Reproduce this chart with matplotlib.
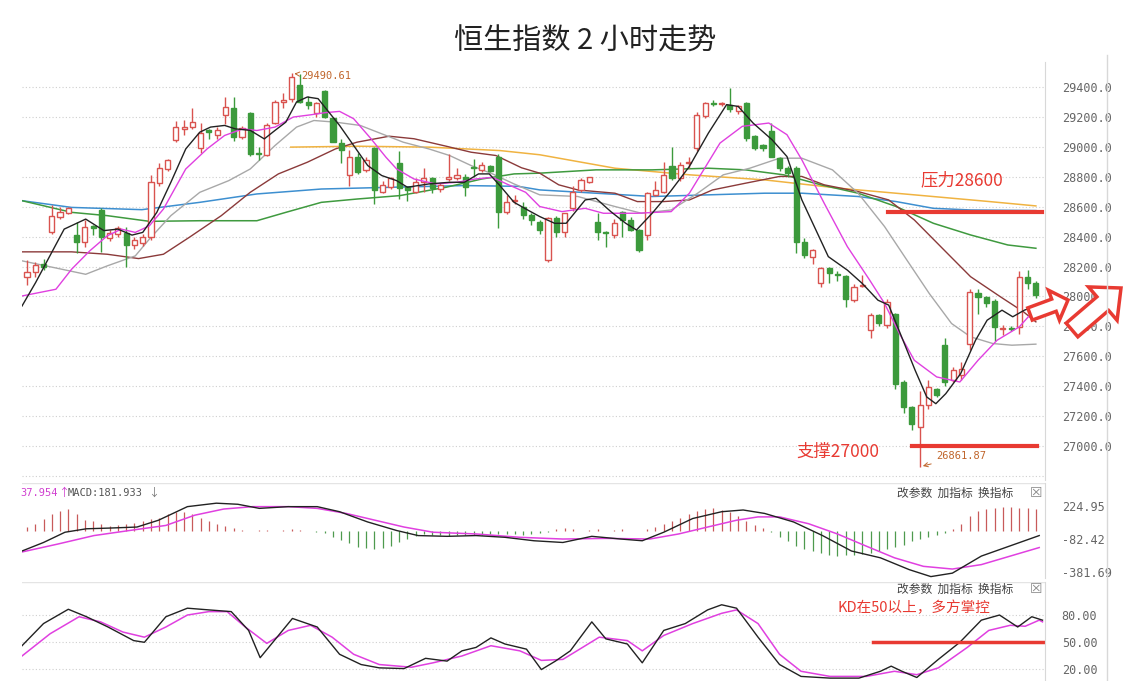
import numpy as np
import matplotlib
matplotlib.use("Agg")
import matplotlib.pyplot as plt
from matplotlib.patches import FancyArrow
from matplotlib.transforms import IdentityTransform

plt.rcParams['font.family'] = ['Noto Sans CJK SC', 'DejaVu Sans']

# =============================================================================
# Data
# =============================================================================
opens = [28132, 28165, 28220, 28432, 28533, 28560, 28410, 28366, 28470, 28577,
         28390, 28420, 28422, 28343, 28360, 28400, 28756, 28850, 29045, 29120,
         29134, 28990, 29110, 29080, 29212, 29257, 29067, 29223, 28960, 28945,
         29157, 29300, 29317, 29413, 29300, 29224, 29370, 29190, 29023, 28812,
         28934, 28845, 28990, 28700, 28733, 28890, 28733, 28700, 28766, 28790,
         28720, 28785, 28790, 28795, 28862, 28845, 28872, 28934, 28566, 28640,
         28600, 28545, 28500, 28243, 28522, 28433, 28590, 28712, 28768, 28500,
         28433, 28411, 28567, 28511, 28444, 28410, 28680, 28700, 28869, 28790,
         28890, 28991, 29203, 29290, 29285, 29280, 29240, 29293, 29074, 29010,
         29103, 28925, 28860, 28857, 28366, 28266, 28091, 28187, 28150, 28136,
         27975, 28070, 27775, 27875, 27808, 27885, 27428, 27261, 27127, 27272,
         27384, 27674, 27440, 27472, 27685, 28020, 27997, 27971, 27780, 27790,
         27797, 28132, 28087]
closes = [28165, 28210, 28200, 28537, 28566, 28588, 28366, 28466, 28455, 28400,
          28422, 28455, 28343, 28377, 28400, 28767, 28856, 28912, 29134, 29130,
          29167, 29090, 29100, 29110, 29263, 29067, 29123, 28950, 28950, 29145,
          29302, 29310, 29470, 29302, 29280, 29290, 29200, 29034, 28980, 28934,
          28834, 28912, 28711, 28745, 28790, 28722, 28710, 28766, 28790, 28722,
          28744, 28795, 28810, 28733, 28856, 28878, 28840, 28566, 28633, 28645,
          28545, 28510, 28444, 28522, 28433, 28556, 28700, 28775, 28797, 28433,
          28422, 28489, 28511, 28444, 28310, 28690, 28712, 28812, 28790, 28880,
          28890, 29215, 29293, 29285, 29285, 29250, 29270, 29058, 28991, 28995,
          28935, 28857, 28823, 28366, 28277, 28310, 28187, 28154, 28146, 27980,
          28065, 28075, 27875, 27820, 27963, 27417, 27261, 27150, 27272, 27395,
          27340, 27428, 27506, 27517, 28031, 27993, 27953, 27797, 27790, 27785,
          28132, 28087, 28009]
highs = [28243, 28230, 28250, 28612, 28600, 28600, 28500, 28510, 28480, 28590,
         28445, 28470, 28466, 28400, 28420, 28810, 28890, 28920, 29170, 29180,
         29260, 29160, 29120, 29130, 29330, 29330, 29140, 29230, 29000, 29160,
         29310, 29360, 29490.61, 29490, 29340, 29300, 29380, 29200, 29050, 28980,
         28960, 28930, 29000, 28770, 28800, 28970, 28740, 28790, 28860, 28800,
         28760, 28950, 28860, 28820, 28920, 28900, 28880, 28950, 28680, 28680,
         28630, 28560, 28510, 28530, 28540, 28560, 28740, 28790, 28800, 28560,
         28440, 28520, 28570, 28530, 28450, 28700, 28770, 28900, 29000, 28900,
         28930, 29230, 29300, 29310, 29300, 29390, 29280, 29300, 29080, 29020,
         29160, 28935, 28870, 28870, 28390, 28320, 28200, 28200, 28170, 28140,
         28080, 28140, 27890, 27880, 27980, 27890, 27440, 27270, 27370, 27440,
         27390, 27720, 27530, 27560, 28050, 28050, 28000, 27980, 27810, 27800,
         28170, 28180, 28100]
lows = [28076, 28130, 28180, 28420, 28520, 28550, 28290, 28330, 28410, 28300,
        28370, 28400, 28200, 28320, 28340, 28380, 28740, 28840, 29030, 29080,
        29120, 28960, 29050, 29050, 29150, 29040, 29050, 28940, 28910, 28940,
        29150, 29260, 29300, 29290, 29250, 29200, 29190, 29030, 28890, 28740,
        28820, 28830, 28620, 28690, 28720, 28650, 28640, 28690, 28700, 28690,
        28700, 28770, 28780, 28670, 28800, 28830, 28830, 28460, 28550, 28620,
        28520, 28480, 28420, 28230, 28400, 28400, 28570, 28700, 28760, 28380,
        28330, 28390, 28400, 28440, 28300, 28380, 28670, 28690, 28780, 28770,
        28860, 28970, 29190, 29270, 29270, 29230, 29220, 29040, 28980, 28970,
        28930, 28840, 28800, 28290, 28260, 28220, 28060, 28090, 28100, 27930,
        27960, 28060, 27720, 27800, 27790, 27380, 27220, 27110, 26861.87, 27250,
        27330, 27400, 27430, 27440, 27640, 27880, 27930, 27700, 27740, 27770,
        27750, 28050, 27990]

# moving averages, sampled (candle index, value)
ma5_x = [-0.6, 1.05, 4.5, 7.1, 9.3, 11.0, 12.7, 14.0, 15.7, 17.4, 19.2, 20.9, 22.2, 23.9,
         25.2, 27.0, 28.7, 30.0, 31.3, 32.6, 33.9, 35.2, 36.5, 37.8, 39.5, 41.2, 42.9,
         44.7, 46.0, 48.6, 51.1, 52.9, 54.6, 55.9, 57.2, 58.9, 60.7, 62.0, 63.8, 65.2,
         67.5, 68.8, 70.6, 72.4, 73.7, 75.6, 77.8, 80.1, 82.4, 84.6, 86.0, 87.8, 90.1,
         91.9, 93.7, 96.9, 99.2, 101.0, 102.9, 104.2, 105.6, 107.4, 108.8, 109.9, 111.1,
         112.9, 114.7, 116.1, 117.9, 119.2, 120.6, 122.2]
ma5_y = [27936, 28093, 28450, 28517, 28440, 28450, 28410, 28428, 28562, 28763, 28986,
         29098, 29132, 29143, 29120, 29110, 29053, 29110, 29165, 29300, 29333, 29322,
         29232, 29143, 29009, 28875, 28808, 28774, 28730, 28752, 28763, 28763, 28819,
         28819, 28740, 28629, 28573, 28534, 28489, 28489, 28645, 28656, 28567, 28489,
         28444, 28556, 28701, 28869, 29092, 29282, 29270, 29159, 29047, 28935, 28645,
         28266, 28176, 28087, 27975, 27942, 27752, 27506, 27328, 27283, 27350, 27484,
         27707, 27841, 27908, 27864, 27908, 27942]
ma10_x = [-0.6, 3.5, 5.4, 7.6, 9.7, 11.4, 13.1, 14.8, 16.5, 19.2, 21.8, 23.9, 26.1, 27.8,
          30.0, 32.2, 34.3, 36.0, 37.8, 39.5, 41.6, 43.4, 44.7, 46.8, 49.4, 52.0, 54.2,
          56.3, 58.0, 60.3, 62.0, 64.7, 67.5, 69.7, 73.8, 77.9, 80.1, 83.8, 86.5, 89.7,
          91.9, 93.7, 96.4, 99.2, 101.9, 103.7, 105.5, 107.3, 110.0, 112.8, 115.0, 117.3,
          120.0, 122.0]
ma10_y = [28003, 28048, 28182, 28305, 28405, 28450, 28428, 28472, 28584, 28852, 28987,
          29076, 29120, 29109, 29132, 29199, 29214, 29228, 29237, 29188, 29054, 28931,
          28852, 28785, 28752, 28763, 28785, 28796, 28752, 28696, 28601, 28567, 28589,
          28556, 28556, 28567, 28690, 29025, 29137, 29159, 29081, 28913, 28623, 28333,
          28109, 27953, 27752, 27573, 27462, 27428, 27573, 27707, 27797, 27920]
ma20_x = [-0.6, 7.1, 9.7, 13.1, 14.8, 17.4, 20.9, 24.4, 27.0, 30.0, 32.6, 34.7, 37.3,
          40.3, 42.9, 45.5, 48.6, 51.1, 53.7, 56.3, 58.9, 62.0, 66.6, 71.1, 74.3, 77.9,
          81.1, 84.2, 87.4, 91.0, 93.7, 97.4, 100.5, 103.7, 106.4, 109.1, 111.8, 114.1,
          116.8, 119.1, 122.0]
ma20_y = [28238, 28148, 28204, 28271, 28383, 28540, 28696, 28774, 28852, 29009, 29132,
          29176, 29165, 29143, 29087, 29031, 28986, 28942, 28875, 28819, 28752, 28679,
          28668, 28601, 28556, 28578, 28690, 28813, 28857, 28924, 28924, 28846, 28690,
          28467, 28243, 28020, 27819, 27730, 27685, 27674, 27681]
ma30_x = [-0.6, 5.4, 9.7, 13.5, 16.5, 19.6, 23.5, 27.0, 30.4, 33.9, 37.3, 39.9, 43.8,
          46.8, 50.7, 53.7, 56.7, 59.8, 62.0, 64.3, 66.6, 68.8, 71.1, 73.8, 77.0, 80.1,
          82.9, 86.9, 91.0, 93.7, 96.4, 100.5, 104.2, 107.3, 110.9, 114.1, 117.7, 120.5,
          122.0]
ma30_y = [28298, 28298, 28282, 28253, 28282, 28394, 28540, 28696, 28819, 28897, 28986,
          29031, 29071, 29054, 29004, 28964, 28942, 28860, 28824, 28746, 28712, 28701,
          28690, 28634, 28634, 28645, 28712, 28757, 28802, 28802, 28746, 28701, 28645,
          28511, 28310, 28132, 27998, 27897, 27830]
ma60_x = [-0.6, 5.4, 9.7, 14.8, 20.9, 27.8, 31.3, 35.6, 39.9, 45.1, 50.7, 55.0, 58.9,
          62.0, 68.8, 75.6, 82.4, 86.9, 91.5, 96.0, 100.5, 105.1, 109.6, 114.1, 118.6, 122.0]
ma60_y = [28640, 28562, 28540, 28502, 28506, 28506, 28562, 28629, 28651, 28674, 28730,
          28785, 28819, 28824, 28846, 28846, 28857, 28846, 28813, 28746, 28690, 28601,
          28489, 28411, 28344, 28322]
ma120_x = [-0.6, 5.4, 13.9, 20.9, 27.8, 35.6, 44.3, 52.9, 59.4, 62.0, 68.8, 75.6, 82.4,
           89.2, 93.7, 100.5, 105.1, 109.6, 114.1, 122.0]
ma120_y = [28640, 28595, 28580, 28629, 28685, 28718, 28730, 28741, 28736, 28712, 28690,
           28668, 28679, 28690, 28690, 28668, 28634, 28589, 28578, 28574]
ma250_x = [31.9, 39.9, 48.6, 57.2, 62.0, 71.1, 80.1, 89.2, 98.3, 107.3, 116.4, 122.0]
ma250_y = [28998, 29004, 28998, 28975, 28947, 28857, 28813, 28779, 28723, 28679, 28634, 28605]

price_ticks = [27000, 27200, 27400, 27600, 27800, 28000, 28200, 28400, 28600, 28800,
               29000, 29200, 29400]

# MACD
macd_hist = [30, 60, 110, 150, 185, 200, 150, 100, 85, 60, 40, 50, 60, 70, 90, 110, 120,
             150, 170, 170, 150, 120, 90, 60, 40, 20, 5, -3, 4, 5, -3, 8, 10, 3, -5, -10,
             -20, -60, -90, -120, -150, -165, -170, -160, -140, -110, -80, -50, -35, -40,
             -45, -50, -45, -40, -45, -40, -35, -30, -30, -35, -40, -30, -20, -15, 10, 25,
             10, -5, 8, 10, -5, 8, 10, -4, -8, 10, 30, 60, 90, 120, 150, 180, 200, 205,
             190, 170, 130, 90, 50, 20, -10, -60, -100, -140, -170, -190, -210, -225,
             -235, -230, -225, -215, -205, -190, -170, -150, -130, -100, -80, -60, -40,
             -20, 10, 60, 130, 180, 200, 210, 215, 215, 210, 210, 200]
dif_x = [-0.6, 2.0, 4.6, 7.2, 9.8, 13.3, 15.9, 19.4, 22.9, 25.5, 28.1, 31.6, 35.1, 37.8,
         41.2, 44.7, 47.3, 50.8, 54.3, 57.8, 61.3, 64.8, 68.3, 71.8, 74.4, 77.0, 80.5,
         84.0, 86.6, 89.2, 92.7, 96.2, 99.7, 103.2, 106.7, 109.3, 111.9, 115.4, 118.9, 122.4]
dif_y = [-190, -111, -16, 16, 22, 32, 95, 221, 253, 243, 205, 221, 221, 174, 79, 0, -47,
         -54, -47, -63, -95, -111, -54, -79, -95, -16, 111, 174, 190, 158, 79, -47, -190,
         -253, -363, -427, -395, -237, -142, -47]
dea_x = [-0.6, 3.7, 8.1, 12.4, 16.8, 20.3, 23.8, 27.3, 31.6, 35.1, 38.6, 42.1, 45.6, 49.1,
         54.3, 59.6, 64.8, 70.0, 75.3, 78.8, 82.3, 85.8, 88.4, 91.0, 94.5, 98.0, 101.4,
         104.9, 108.4, 111.9, 115.4, 118.9, 122.4]
dea_y = [-199, -126, -47, 0, 47, 142, 199, 221, 221, 205, 158, 95, 32, -16, -32, -63, -79,
         -73, -79, -32, 32, 95, 126, 126, 63, -32, -142, -253, -332, -357, -316, -237, -158]
macd_ticks = [224.95, -82.42, -381.69]

# KD
k_x = [-0.6, 2.0, 5.0, 7.2, 9.8, 12.9, 14.2, 16.8, 19.4, 22.0, 24.7, 26.8, 28.2, 29.9,
       32.1, 35.1, 37.8, 40.4, 42.6, 45.6, 48.2, 50.8, 52.6, 54.3, 56.1, 57.8, 60.4, 62.2,
       63.9, 65.7, 68.3, 70.0, 72.6, 74.4, 77.0, 79.6, 82.3, 84.0, 85.8, 88.4, 91.0, 93.6,
       97.1, 100.6, 103.2, 104.5, 105.8, 107.6, 110.2, 112.8, 115.4, 117.6, 119.8, 121.5,
       122.8]
k_y = [45.9, 70.5, 86.4, 78.1, 66.7, 51.6, 49.7, 78.1, 87.6, 85.7, 83.8, 62.9, 32.6, 51.6,
       76.2, 66.7, 36.4, 25.0, 21.3, 20.5, 31.9, 28.8, 40.2, 44.0, 54.6, 47.8, 42.1, 19.4,
       28.8, 40.2, 72.4, 53.5, 47.8, 26.9, 62.9, 70.5, 85.7, 91.4, 87.6, 55.4, 25.0, 11.8,
       9.9, 9.9, 17.5, 23.2, 17.5, 10.6, 30.7, 49.7, 74.3, 80.0, 66.7, 78.1, 74.3]
d_x = [-0.6, 2.8, 6.3, 8.9, 11.6, 14.2, 16.8, 19.4, 22.0, 24.2, 26.4, 29.0, 31.6, 34.3,
       36.9, 39.5, 42.6, 46.5, 49.1, 52.6, 56.1, 59.6, 62.2, 64.8, 66.5, 69.2, 72.6, 74.4,
       77.0, 80.5, 84.0, 85.8, 88.4, 91.0, 93.6, 97.1, 101.5, 104.9, 107.6, 110.2, 113.7,
       116.3, 118.9, 120.7, 122.4, 122.8]
d_y = [34.5, 59.2, 78.1, 72.4, 61.1, 55.4, 66.7, 80.0, 83.8, 83.8, 66.7, 48.5, 62.9, 68.6,
       55.4, 36.4, 25.0, 22.0, 26.9, 34.5, 45.9, 40.2, 29.6, 30.7, 40.2, 55.4, 51.6, 40.2,
       57.3, 70.5, 81.9, 85.7, 70.5, 36.4, 17.5, 11.8, 11.8, 17.5, 13.7, 21.3, 44.0, 62.9,
       68.6, 67.5, 74.3, 72.4]
kd_ticks = [80, 50, 20]

RED = "#d9534f"
GREEN = "#3c9a3c"
LINE_RED = "#e83a32"
GRID = "#cfcfcf"
TICK = "#666666"

W, H = 1123, 681
fig = plt.figure(figsize=(W / 100, H / 100), dpi=100)

def px_axes(x0, y0, x1, y1):
    return fig.add_axes([x0 / W, 1 - y1 / H, (x1 - x0) / W, (y1 - y0) / H])

ax1 = px_axes(22, 62, 1045, 480)
ax2 = px_axes(22, 483, 1045, 578)
ax3 = px_axes(22, 582, 1045, 681)

XLIM = (-0.6, 123.1)
for ax in (ax1, ax2, ax3):
    ax.set_xlim(*XLIM)
    ax.set_xticks([])
    for s in ("top", "left", "bottom"):
        ax.spines[s].set_visible(False)
    ax.spines["right"].set_color("#d8d8d8")
    ax.yaxis.tick_right()
    ax.tick_params(axis="y", length=0, labelsize=8.5, colors=TICK, pad=12)

# -- price panel --
ax1.set_ylim(26773, 29567)
ax1.set_yticks(price_ticks)
ax1.set_yticklabels([f"{t:.1f}" for t in price_ticks], family="DejaVu Sans Mono")
for t in price_ticks + [26800]:
    ax1.axhline(t, color=GRID, linestyle=(0, (1, 2)), linewidth=0.8, zorder=0)

idx = np.arange(len(opens))
o = np.array(opens, float); c = np.array(closes, float)
hi = np.array(highs, float); lo = np.array(lows, float)
up = c >= o
cols = np.where(up, RED, GREEN)
ax1.vlines(idx, lo, hi, colors=cols, linewidth=1.0, zorder=3)
body_lo = np.minimum(o, c)
body_h = np.maximum(np.abs(c - o), 6)
ax1.bar(idx[up], body_h[up], bottom=body_lo[up], width=0.62, facecolor="white",
        edgecolor=RED, linewidth=1.0, zorder=4)
ax1.bar(idx[~up], body_h[~up], bottom=body_lo[~up], width=0.62, facecolor=GREEN,
        edgecolor=GREEN, linewidth=1.0, zorder=4)

ax1.plot(ma250_x, ma250_y, color="#f0b341", linewidth=1.1, zorder=2)
ax1.plot(ma120_x, ma120_y, color="#3d8fd0", linewidth=1.1, zorder=2)
ax1.plot(ma60_x, ma60_y, color="#3f9a3f", linewidth=1.1, zorder=2)
ax1.plot(ma30_x, ma30_y, color="#8b3a3a", linewidth=1.0, zorder=2)
ax1.plot(ma20_x, ma20_y, color="#a8a8a8", linewidth=1.0, zorder=2)
ax1.plot(ma10_x, ma10_y, color="#e040e0", linewidth=1.0, zorder=5)
ax1.plot(ma5_x, ma5_y, color="#222222", linewidth=1.0, zorder=5)

ax1.plot([104.1, 122.7], [28563, 28563], color=LINE_RED, linewidth=3, zorder=6)
ax1.plot([107.0, 122.1], [27000, 27000], color=LINE_RED, linewidth=3, zorder=6)
ax1.text(108.0, 28740, "压力28600", color=LINE_RED, fontsize=12.5, zorder=7)
ax1.text(93.0, 26930, "支撑27000", color=LINE_RED, fontsize=12.5, zorder=7)

imax = int(np.argmax(hi)); imin = int(np.argmin(lo))
ax1.annotate(f"{hi[imax]:.2f}", xy=(imax, hi[imax]), xytext=(imax + 1.2, hi[imax] - 40),
             color="#c0652b", fontsize=7.5, family="DejaVu Sans Mono",
             arrowprops=dict(arrowstyle="->", color="#c0652b", lw=0.7))
ax1.annotate(f"{lo[imin]:.2f}", xy=(imin, lo[imin]), xytext=(imin + 2.0, lo[imin] + 50),
             color="#c0652b", fontsize=7.5, family="DejaVu Sans Mono",
             arrowprops=dict(arrowstyle="->", color="#c0652b", lw=0.7))

# -- MACD panel --
ax2.set_ylim(-440, 440)
ax2.set_yticks(macd_ticks)
ax2.set_yticklabels([f"{t:.2f}" for t in macd_ticks], family="DejaVu Sans Mono")
h = np.array(macd_hist, float)
ax2.vlines(idx, 0, h, colors=np.where(h >= 0, "#c85a5a", "#4e9a4e"), linewidth=0.9)
ax2.plot(dea_x, dea_y, color="#e040e0", linewidth=1.1)
ax2.plot(dif_x, dif_y, color="#222222", linewidth=1.0)
ax2.axhline(440, color="#e4e4e4", linewidth=1)

# -- KD panel --
ax3.set_ylim(6.7, 116.7)
ax3.set_yticks(kd_ticks)
ax3.set_yticklabels([f"{t:.2f}" for t in kd_ticks], family="DejaVu Sans Mono")
for t in kd_ticks:
    ax3.axhline(t, color=GRID, linestyle=(0, (1, 2)), linewidth=0.8, zorder=0)
ax3.axhline(116.7, color="#e4e4e4", linewidth=1)
ax3.plot(d_x, d_y, color="#e040e0", linewidth=1.1)
ax3.plot(k_x, k_y, color="#222222", linewidth=1.0)
ax3.plot([102.3, 122.8], [50, 50], color=LINE_RED, linewidth=2.5)
ax3.text(98.0, 88.5, "KD在50以上，多方掌控", color=LINE_RED, fontsize=10.5, va="center")

# -- texts in figure pixels --
def ftext(x, y, s, **kw):
    fig.text(x / W, 1 - y / H, s, va="center", **kw)

ftext(585, 42, "恒生指数 2 小时走势", ha="center", fontsize=21, color="#222222")
ftext(20, 493, "37.954", color="#d040d0", fontsize=7.5, family="DejaVu Sans Mono")
ftext(58, 493, "↑", color="#d040d0", fontsize=8)
ftext(68, 493, "MACD:181.933", color="#555555", fontsize=7.5, family="DejaVu Sans Mono")
ftext(148, 493, "↓", color="#777777", fontsize=8)
for yy in (493, 589):
    ftext(897, yy, "改参数  加指标  换指标", color="#444444", fontsize=8.5)
    ftext(1030, yy, "☒", color="#888888", fontsize=10, family="DejaVu Sans")

# separator on the right side of the price labels
fig.add_artist(plt.Line2D([1107 / W, 1107 / W], [0, 1 - 55 / H], color="#d8d8d8",
                          linewidth=1, transform=fig.transFigure))

# hollow red arrows
for (x0, y0, x1, y1, w, hw, hl) in [(1030, 314, 1068, 300, 13, 32, 15),
                                    (1072, 330, 1121, 288, 18, 44, 24)]:
    arr = FancyArrow(x0, H - y0, x1 - x0, -(y1 - y0), width=w, head_width=hw,
                     head_length=hl, length_includes_head=True, transform=IdentityTransform(),
                     facecolor="white", edgecolor=LINE_RED, linewidth=2.5)
    fig.add_artist(arr)

fig.savefig("out.png", dpi=100)
